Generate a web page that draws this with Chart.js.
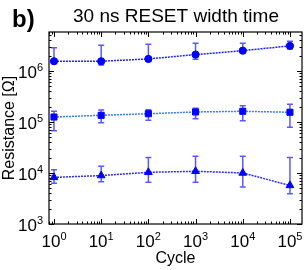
<!DOCTYPE html>
<html><head><meta charset="utf-8">
<script src="https://cdn.jsdelivr.net/npm/chart.js@4/dist/chart.umd.min.js"></script>
<style>html,body{margin:0;padding:0;background:#fff}#wrap{width:308px;height:270px;position:relative}</style>
</head><body><div id="wrap"><canvas id="c"></canvas></div>
<script>
const cycles = [1, 10, 100, 1000, 10000, 100000];
const xTickValues = [1, 10, 100, 1000, 10000, 100000];
const xTickExponents = ['0', '1', '2', '3', '4', '5'];
const yTickValues = [1e3, 1e4, 1e5, 1e6];
const yTickExponents = ['3', '4', '5', '6'];
const tickBase = '10';
const panelLabel = 'b)';
const chartTitle = '30 ns RESET width time';
const xTitle = 'Cycle';
const yTitle = 'Resistance [Ω]';

const hrsValues = [1.55e6, 1.55e6, 1.72e6, 2.09e6, 2.5e6, 3.1e6];
const hrsLow    = [1.42e6, 1.31e6, 1.57e6, 1.7e6, 2.22e6, 2.7e6];
const hrsHigh   = [2.86e6, 3.2e6, 3.34e6, 3.49e6, 3.49e6, 3.8e6];
const mrsValues = [1.25e5, 1.35e5, 1.45e5, 1.57e5, 1.62e5, 1.55e5];
const mrsLow    = [6.7e4, 9.6e4, 1.08e5, 1.16e5, 1.06e5, 7.9e4];
const mrsHigh   = [1.62e5, 1.72e5, 1.74e5, 1.86e5, 2.09e5, 2.22e5];
const lrsValues = [8.2e3, 8.9e3, 1.03e4, 1.08e4, 1.0e4, 5.7e3];
const lrsLow    = [6.3e3, 6.7e3, 6.6e3, 6.6e3, 5.3e3, 3.9e3];
const lrsHigh   = [1.16e4, 1.35e4, 2.0e4, 2.12e4, 2.12e4, 2.0e4];

const FONT = "'Liberation Sans', Arial, sans-serif";

function series(vals, low, high, style, lineColor, radius) {
  return {
    data: cycles.map((c, i) => ({x: c, y: vals[i]})),
    errLow: low, errHigh: high,
    pointStyle: style, pointRadius: radius, pointHoverRadius: radius,
    pointBackgroundColor: '#0000ff', pointBorderColor: '#0000ff', pointBorderWidth: 1,
    borderColor: lineColor, borderWidth: 1.5, borderDash: [2, 1], fill: false, tension: 0
  };
}

const errorBars = {
  id: 'errorBars',
  beforeDatasetsDraw(chart) {
    const {ctx, scales: {x, y}} = chart;
    ctx.save();
    ctx.strokeStyle = 'rgba(0,0,255,0.65)';
    ctx.lineWidth = 1.5;
    chart.data.datasets.forEach(ds => {
      ds.data.forEach((p, i) => {
        const px = x.getPixelForValue(p.x);
        const y1 = y.getPixelForValue(ds.errLow[i]);
        const y2 = y.getPixelForValue(ds.errHigh[i]);
        ctx.beginPath();
        ctx.moveTo(px, y1); ctx.lineTo(px, y2);
        ctx.moveTo(px - 3, y1); ctx.lineTo(px + 3, y1);
        ctx.moveTo(px - 3, y2); ctx.lineTo(px + 3, y2);
        ctx.stroke();
      });
    });
    ctx.restore();
  }
};

const frame = {
  id: 'frame',
  afterDraw(chart) {
    const {ctx, chartArea: a, scales: {x, y}} = chart;
    ctx.save();
    ctx.strokeStyle = '#000';
    ctx.lineWidth = 1;
    const seg = (x1, y1, x2, y2) => { ctx.beginPath(); ctx.moveTo(x1, y1); ctx.lineTo(x2, y2); ctx.stroke(); };
    for (let e = -1; e <= 6; e++) for (let m = 1; m < 10; m++) {
      const v = m * Math.pow(10, e);
      if (v < x.min || v > x.max) continue;
      const px = Math.round(x.getPixelForValue(v)) + 0.5;
      const len = m === 1 ? 5 : 2.5;
      seg(px, a.bottom, px, a.bottom - len);
      seg(px, a.top, px, a.top + len);
    }
    for (let e = 2; e <= 7; e++) for (let m = 1; m < 10; m++) {
      const v = m * Math.pow(10, e);
      if (v < y.min || v > y.max) continue;
      const py = Math.round(y.getPixelForValue(v)) + 0.5;
      const len = m === 1 ? 5 : 2.5;
      seg(a.left, py, a.left + len, py);
      seg(a.right, py, a.right - len, py);
    }
    ctx.lineWidth = 1.2;
    ctx.strokeRect(a.left, a.top, a.right - a.left, a.bottom - a.top);

    // power-of-ten tick labels, positioned by the scales
    ctx.fillStyle = '#000';
    ctx.textBaseline = 'alphabetic';
    ctx.textAlign = 'left';
    const baseFont = '17px ' + FONT, expFont = '11px ' + FONT;
    xTickValues.forEach((v, i) => {
      const px = x.getPixelForValue(v);
      ctx.font = baseFont; const w1 = ctx.measureText(tickBase).width;
      ctx.font = expFont; const w2 = ctx.measureText(xTickExponents[i]).width;
      const start = px - (w1 + w2) / 2;
      ctx.font = baseFont; ctx.fillText(tickBase, start, a.bottom + 22.5);
      ctx.font = expFont; ctx.fillText(xTickExponents[i], start + w1, a.bottom + 16);
    });
    yTickValues.forEach((v, i) => {
      const py = y.getPixelForValue(v);
      const right = a.left - 6;
      ctx.font = expFont; const w2 = ctx.measureText(yTickExponents[i]).width;
      ctx.fillText(yTickExponents[i], right - w2, py);
      ctx.font = baseFont; const w1 = ctx.measureText(tickBase).width;
      ctx.fillText(tickBase, right - w2 - w1, py + 7);
    });

    ctx.font = 'bold 24px ' + FONT;
    ctx.fillText(panelLabel, 12, 27);
    ctx.font = '19px ' + FONT;
    ctx.textAlign = 'center';
    ctx.fillText(chartTitle, 176, 22);
    ctx.restore();
  }
};

new Chart(document.getElementById('c'), {
  type: 'line',
  data: {
    datasets: [
      series(hrsValues, hrsLow, hrsHigh, 'circle', '#2020ff', 3.6),
      series(mrsValues, mrsLow, mrsHigh, 'rect', '#3a78ff', 4.3),
      series(lrsValues, lrsLow, lrsHigh, 'triangle', '#2a2aff', 4.5)
    ]
  },
  options: {
    responsive: true, maintainAspectRatio: false, animation: false,
    layout: {padding: {top: 32, right: 6, left: 0, bottom: 0}},
    plugins: {legend: {display: false}, tooltip: {enabled: false}, title: {display: false}},
    scales: {
      x: {
        type: 'logarithmic', min: 0.784, max: 1.8e5,
        afterBuildTicks: s => { s.ticks = xTickValues.map(v => ({value: v})); },
        afterFit: s => { s.height = 46; },
        grid: {display: false, drawTicks: false},
        border: {display: false},
        ticks: {display: false},
        title: {display: true, text: xTitle, color: '#000', font: {family: FONT, size: 16}, padding: {top: 0, bottom: 2}}
      },
      y: {
        type: 'logarithmic', min: 1000, max: 5.8e6,
        afterBuildTicks: s => { s.ticks = yTickValues.map(v => ({value: v})); },
        afterFit: s => { s.width = 49; },
        grid: {display: false, drawTicks: false},
        border: {display: false},
        ticks: {display: false},
        title: {display: true, text: yTitle, color: '#000', font: {family: FONT, size: 16}, padding: {top: 0, bottom: 0}}
      }
    }
  },
  plugins: [errorBars, frame]
});
</script>
</body></html>
